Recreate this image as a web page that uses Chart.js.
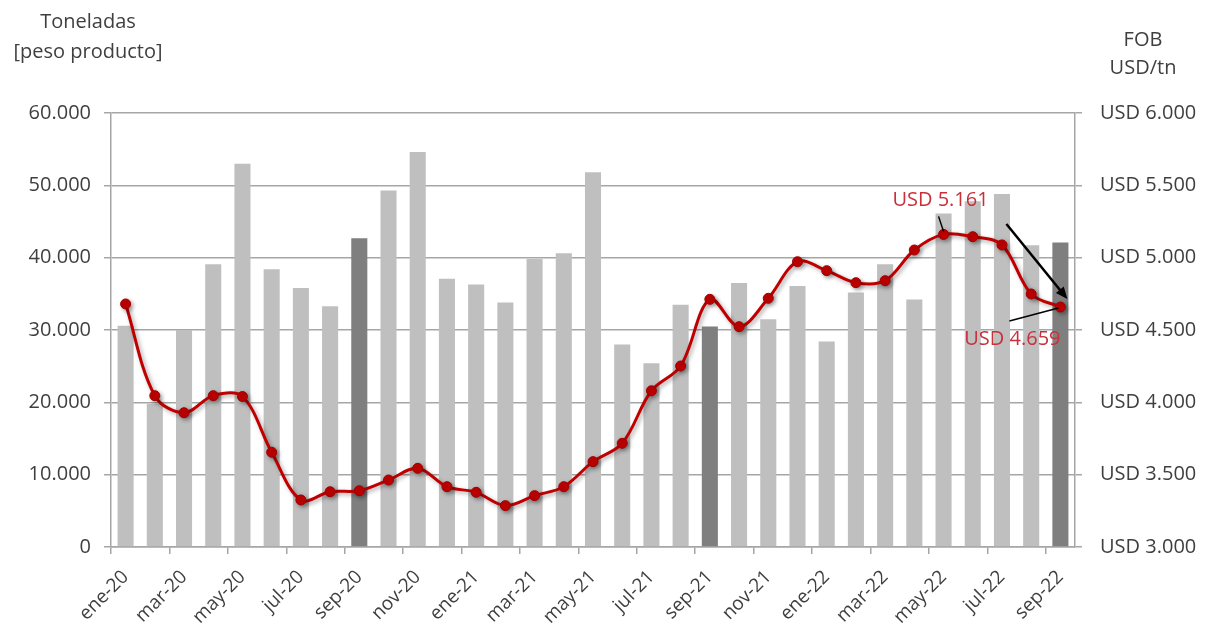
<!DOCTYPE html>
<html>
<head>
<meta charset="utf-8">
<script src="https://cdn.jsdelivr.net/npm/chart.js@4.4.0/dist/chart.umd.min.js"></script>
<style>
  html, body { margin: 0; padding: 0; background: #fff; }
</style>
</head>
<body>
<canvas id="grafico" width="1207" height="627"></canvas>
<script>
const meses = [
  'ene-20','feb-20','mar-20','abr-20','may-20','jun-20','jul-20','ago-20','sep-20','oct-20','nov-20','dic-20',
  'ene-21','feb-21','mar-21','abr-21','may-21','jun-21','jul-21','ago-21','sep-21','oct-21','nov-21','dic-21',
  'ene-22','feb-22','mar-22','abr-22','may-22','jun-22','jul-22','ago-22','sep-22'
];

// toneladas exportadas (peso producto)
const toneladas = [
  30600, 19800, 30000, 39100, 53000, 38400, 35800, 33300, 42700, 49300, 54600, 37100,
  36300, 33800, 39800, 40600, 51800, 28000, 25400, 33500, 30500, 36500, 31500, 36100,
  28400, 35200, 39100, 34200, 46100, 47800, 48800, 41700, 42100
];

// precio FOB USD/tn
const fob = [
  4680, 4046, 3928, 4046, 4040, 3655, 3325, 3382, 3389, 3463, 3544, 3417,
  3378, 3286, 3355, 3417, 3590, 3717, 4080, 4251, 4712, 4523, 4719, 4972,
  4910, 4827, 4841, 5053, 5161, 5145, 5088, 4749, 4659
];

const ticksIzq = [0, 10000, 20000, 30000, 40000, 50000, 60000];
const ticksDer = [3000, 3500, 4000, 4500, 5000, 5500, 6000];

const gris = '#a6a6a6';
const texto = '#3f3f3f';
const rojo = '#c00000';
const rojoTexto = '#c8303a';
const fuente = '"Open Sans", sans-serif';

function miles(v) {
  return String(Math.round(v)).replace(/\B(?=(\d{3})+(?!\d))/g, '.');
}

const coloresBarras = meses.map(m => m.startsWith('sep') ? '#7f7f7f' : '#bfbfbf');

const sombra = {
  id: 'sombra',
  beforeDatasetDraw(chart, args) {
    if (args.index !== 0) return;
    const ctx = chart.ctx;
    ctx.save();
    ctx.shadowColor = 'rgba(0,0,0,0.35)';
    ctx.shadowBlur = 4;
    ctx.shadowOffsetX = 2;
    ctx.shadowOffsetY = 2;
  },
  afterDatasetDraw(chart, args) {
    if (args.index !== 0) return;
    chart.ctx.restore();
  }
};

function flecha(ctx, x1, y1, x2, y2) {
  const ang = Math.atan2(y2 - y1, x2 - x1);
  const L = 13;
  ctx.beginPath();
  ctx.moveTo(x1, y1);
  ctx.lineTo(x2 - Math.cos(ang) * L * 0.8, y2 - Math.sin(ang) * L * 0.8);
  ctx.stroke();
  ctx.beginPath();
  ctx.moveTo(x2, y2);
  ctx.lineTo(x2 - L * Math.cos(ang - 0.4), y2 - L * Math.sin(ang - 0.4));
  ctx.lineTo(x2 - L * Math.cos(ang + 0.4), y2 - L * Math.sin(ang + 0.4));
  ctx.closePath();
  ctx.fill();
}

const rotulos = {
  id: 'rotulos',
  afterDraw(chart) {
    const ctx = chart.ctx;
    ctx.save();
    ctx.fillStyle = texto;
    ctx.font = '20px ' + fuente;
    ctx.textBaseline = 'middle';
    ctx.textAlign = 'center';
    ctx.fillText('Toneladas', 88, 22);
    ctx.fillText('[peso producto]', 88, 52);
    ctx.fillText('FOB', 1143, 40);
    ctx.fillText('USD/tn', 1143, 68);

    // anotaciones del precio
    const puntos = chart.getDatasetMeta(0).data;
    const iMax = fob.indexOf(Math.max(...fob));
    const iUlt = fob.length - 1;
    const pMax = puntos[iMax];
    const pUlt = puntos[iUlt];

    ctx.strokeStyle = '#000';
    ctx.fillStyle = '#000';
    ctx.lineWidth = 1.5;
    ctx.beginPath();
    ctx.moveTo(pMax.x - 5, pMax.y - 18);
    ctx.lineTo(pMax.x, pMax.y - 3);
    ctx.stroke();
    ctx.beginPath();
    ctx.moveTo(pUlt.x - 51, pUlt.y + 14);
    ctx.lineTo(pUlt.x - 2, pUlt.y + 1);
    ctx.stroke();

    ctx.lineWidth = 2.5;
    flecha(ctx, pUlt.x - 54, pUlt.y - 83, pUlt.x + 7, pUlt.y - 8);

    ctx.fillStyle = rojoTexto;
    ctx.font = '20px ' + fuente;
    ctx.textAlign = 'center';
    ctx.fillText('USD ' + miles(fob[iMax]), pMax.x - 3, pMax.y - 34);
    ctx.fillText('USD ' + miles(fob[iUlt]), pUlt.x - 48, pUlt.y + 32);
    ctx.restore();
  }
};

const config = {
  data: {
    labels: meses,
    datasets: [
      {
        type: 'line',
        label: 'FOB USD/tn',
        data: fob,
        yAxisID: 'y1',
        borderColor: rojo,
        borderWidth: 3,
        backgroundColor: rojo,
        pointBackgroundColor: rojo,
        pointBorderColor: '#a00000',
        pointRadius: 5,
        pointBorderWidth: 1,
        tension: 0.35,
        order: 0
      },
      {
        type: 'bar',
        label: 'Toneladas',
        data: toneladas,
        yAxisID: 'y',
        backgroundColor: coloresBarras,
        barPercentage: 0.55,
        categoryPercentage: 1,
        order: 1
      }
    ]
  },
  options: {
    responsive: false,
    animation: false,
    layout: { padding: { top: 113, left: 0, right: 0, bottom: 0 } },
    plugins: {
      legend: { display: false },
      tooltip: { enabled: false }
    },
    scales: {
      x: {
        offset: true,
        grid: {
          offset: true,
          drawOnChartArea: false,
          tickLength: 7,
          lineWidth: 1.5,
          color: c => c.index % 2 === 0 ? gris : 'rgba(0,0,0,0)'
        },
        border: { color: gris, width: 1.5 },
        ticks: {
          autoSkip: false,
          maxRotation: 45,
          minRotation: 45,
          color: texto,
          font: { family: fuente, size: 19 },
          padding: 12,
          callback: (v, i) => i % 2 === 0 ? meses[i] : ''
        },
        afterFit: s => { s.height = 80; }
      },
      y: {
        position: 'left',
        min: 0,
        max: 60000,
        afterBuildTicks: s => { s.ticks = ticksIzq.map(v => ({ value: v })); },
        grid: { color: gris, lineWidth: 1.5, tickLength: 7 },
        border: { color: gris, width: 1.5 },
        ticks: {
          color: texto,
          font: { family: fuente, size: 20 },
          padding: 13,
          callback: v => miles(v)
        },
        afterFit: s => { s.width = 111; }
      },
      y1: {
        position: 'right',
        min: 3000,
        max: 6000,
        afterBuildTicks: s => { s.ticks = ticksDer.map(v => ({ value: v })); },
        grid: { drawOnChartArea: false, color: gris, lineWidth: 1.5, tickLength: 7 },
        border: { color: gris, width: 1.5 },
        ticks: {
          color: texto,
          font: { family: fuente, size: 20 },
          padding: 18,
          callback: v => 'USD ' + miles(v)
        },
        afterFit: s => { s.width = 132; }
      }
    }
  },
  plugins: [sombra, rotulos]
};

const grafico = new Chart(document.getElementById('grafico'), config);
</script>
</body>
</html>
